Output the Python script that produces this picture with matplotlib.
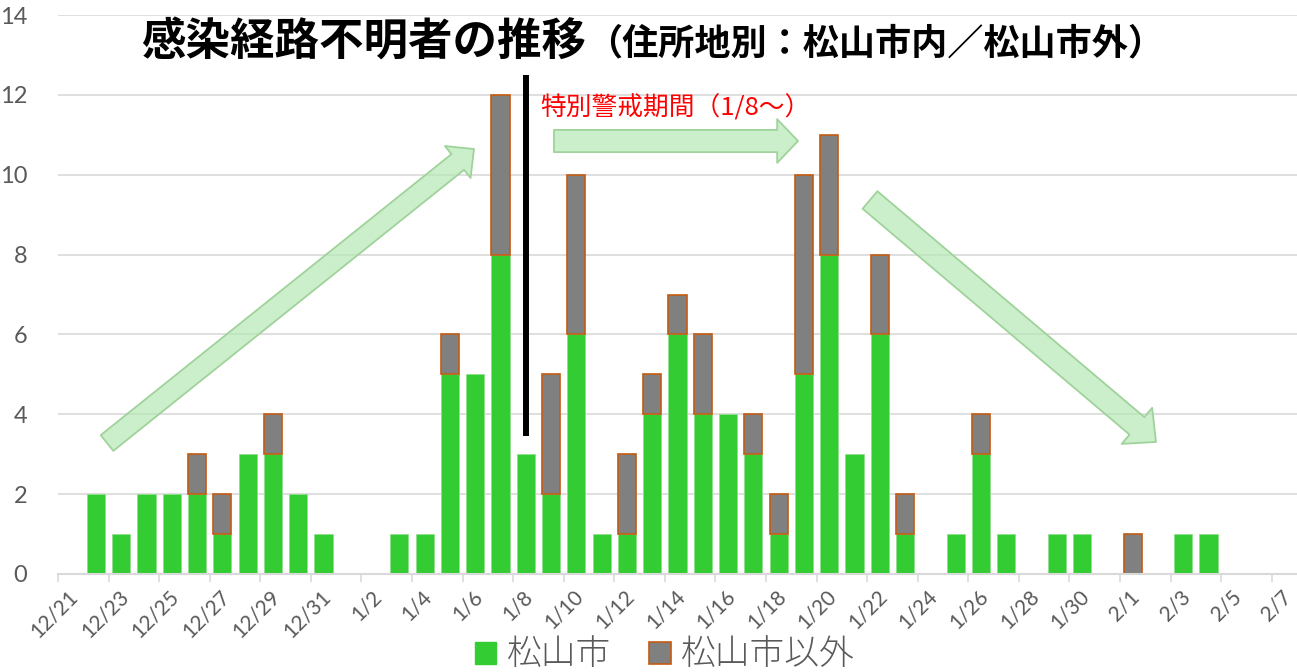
import numpy as np
import pandas as pd
import matplotlib
matplotlib.use("Agg")
import matplotlib.pyplot as plt
from matplotlib.patches import Patch, FancyArrowPatch
from matplotlib.transforms import ScaledTranslation

plt.rcParams['font.family'] = ['Lato', 'Noto Sans CJK JP', 'DejaVu Sans']

# data: unknown-route cases per day
dates = pd.date_range("2020-12-22", "2021-02-04")
matsuyama = [2, 1, 2, 2, 2, 1, 3, 3, 2, 1,
             0, 0, 1, 1, 5, 5, 8, 3, 2, 6,
             1, 1, 4, 6, 4, 4, 3, 1, 5, 8,
             3, 6, 1, 0, 1, 3, 1, 0, 1, 1,
             0, 0, 0, 1, 1]
others = [0, 0, 0, 0, 1, 1, 0, 1, 0, 0,
          0, 0, 0, 0, 1, 0, 4, 0, 3, 4,
          0, 2, 1, 1, 2, 0, 1, 1, 5, 3,
          0, 2, 1, 0, 0, 1, 0, 0, 0, 0,
          0, 1, 0, 0, 0]
axis_start = pd.Timestamp("2020-12-21")
axis_end = pd.Timestamp("2021-02-08")
tick_dates = pd.date_range(axis_start, "2021-02-07", freq="2D")
tick_labels = [f"{d.month}/{d.day}" for d in tick_dates]
alert_date = pd.Timestamp("2021-01-08")

title_main = "感染経路不明者の推移"
title_sub = "（住所地別：松山市内／松山市外）"
alert_text = "特別警戒期間（1/8～）"
legend_labels = ["松山市", "松山市以外"]

green = "#33CC33"
gray = "#808080"
orange = "#C55A11"
label_col = "#595959"
grid_col = "#D9D9D9"

W, H = 1297, 672
fig = plt.figure(figsize=(W / 100, H / 100), dpi=100)
ax = fig.add_axes([58 / W, 1 - 574 / H, 1 - 58 / W, (574 - 15) / H])

x = np.array([(d - axis_start).days for d in dates]) + 0.5
ms = np.array(matsuyama)
ot = np.array(others)

ax.bar(x, ms, width=0.72, color=green, edgecolor="#8EE08E", linewidth=0.6, zorder=2)
ax.bar(x[ot > 0], ot[ot > 0], bottom=ms[ot > 0], width=0.72, color=gray,
       edgecolor=orange, linewidth=1.2, zorder=2)

ax.set_xlim(0, (axis_end - axis_start).days)
ax.set_ylim(0, 14)
ax.set_yticks(range(0, 15, 2))
tick_pos = [(d - axis_start).days for d in tick_dates]
ax.set_xticks(tick_pos)
ax.set_xticklabels(tick_labels, rotation=45, ha="right", va="center",
                   rotation_mode="anchor")
ax.tick_params(axis="x", colors=grid_col, labelcolor=label_col, length=6,
               width=1.2, labelsize=15, pad=8)
ax.tick_params(axis="y", length=0, labelcolor=label_col, labelsize=17, pad=22)
shift = ScaledTranslation(12 / 72, 0, fig.dpi_scale_trans)
for lbl in ax.get_xticklabels():
    lbl.set_transform(lbl.get_transform() + shift)

ax.grid(axis="y", color=grid_col, linewidth=1.2, zorder=0)
ax.set_axisbelow(True)
for s in ["left", "right", "top"]:
    ax.spines[s].set_visible(False)
ax.spines["bottom"].set_color(grid_col)
ax.spines["bottom"].set_linewidth(1.5)

# start of special alert period
xa = (alert_date - axis_start).days + 0.5
ax.plot([xa, xa], [3.45, 12.5], color="black", linewidth=4.3, zorder=3,
        solid_capstyle="butt")

# trend arrows (pixel positions on the page)
def px(xp, yp):
    return (xp / W, 1 - yp / H)

arrows = [
    (px(107, 443), px(474, 149), 15, 29.5, 14.5),
    (px(554, 141), px(798, 141), 15, 31.5, 16),
    (px(870, 200), px(1156, 442), 18, 34, 16.5),
]
for a, b, hl, hw, tw in arrows:
    arr = FancyArrowPatch(a, b, transform=fig.transFigure,
                          arrowstyle=f"simple,head_length={hl},head_width={hw},tail_width={tw}",
                          mutation_scale=1, shrinkA=0, shrinkB=0,
                          facecolor=(0.71, 0.91, 0.71, 0.7),
                          edgecolor="#9FD39A", linewidth=1.3, zorder=4)
    fig.patches.append(arr)

fig.text(586 / W, 1 - 42 / H, title_main, ha="right", va="center",
         fontsize=32, fontweight="bold", family=["Noto Sans CJK JP"])
fig.text(586 / W, 1 - 44 / H, title_sub, ha="left", va="center",
         fontsize=26, fontweight="bold", family=["Noto Sans CJK JP"])
fig.text(540 / W, 1 - 108 / H, alert_text, ha="left", va="center",
         fontsize=18.5, color="#FF0000", family=["Noto Sans CJK JP", "DejaVu Sans"])

handles = [Patch(facecolor=green, edgecolor=green),
           Patch(facecolor=gray, edgecolor=orange, linewidth=1.2)]
leg = fig.legend(handles, legend_labels, loc="center",
                 bbox_to_anchor=(665 / W, 1 - 655 / H), ncol=2, frameon=False,
                 prop={"family": "Noto Sans CJK JP", "size": 25, "weight": "light"},
                 handlelength=0.62, handleheight=0.62, handletextpad=0.3,
                 columnspacing=1.1, borderpad=0)
for t in leg.get_texts():
    t.set_color(label_col)

fig.savefig("out.png", dpi=100)
